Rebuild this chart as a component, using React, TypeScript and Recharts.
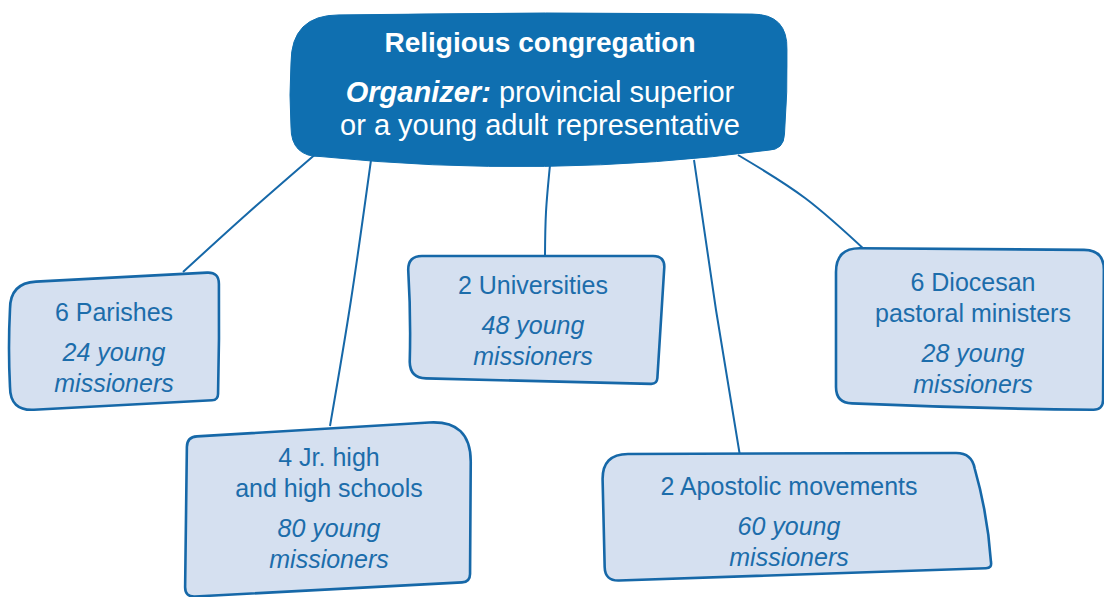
import { ScatterChart, Scatter, XAxis, YAxis } from 'recharts';

const W = 1104;
const H = 597;

// units under the congregation
const unitTitles = [
  ['6 Parishes'],
  ['4 Jr. high', 'and high schools'],
  ['2 Universities'],
  ['2 Apostolic movements'],
  ['6 Diocesan', 'pastoral ministers'],
];
const youngMissioners = [24, 80, 48, 60, 28];

// anchor = text centre x, first baseline y (chart space == pixel space)
const unitX = [114, 329, 533, 789, 973];
const unitY = [321, 466, 294, 495, 291];

const headerTitle = 'Religious congregation';
const headerLead = 'Organizer:';
const headerLines = ['provincial superior', 'or a young adult representative'];
const headerAt = { x: 540, y: 52 };

// connector paths from header to each unit
const links = [
  [{ x: 318, y: 152 }, { x: 248, y: 213 }, { x: 183, y: 272 }],
  [{ x: 371, y: 160 }, { x: 351, y: 300 }, { x: 330, y: 426 }],
  [{ x: 550, y: 165 }, { x: 546, y: 212 }, { x: 545, y: 256 }],
  [{ x: 694, y: 160 }, { x: 716, y: 310 }, { x: 740, y: 456 }],
  [{ x: 738, y: 155 }, { x: 805, y: 198 }, { x: 866, y: 251 }],
];

// hand-drawn outlines: corners relative to anchor (TL, TR, BR, BL), radii, edge bulges (top,right,bottom,left)
const unitOutlines = [
  { c: [[-104, -38], [105, -49], [104, 79], [-104, 90]], r: [26, 12, 6, 24], b: [0, 1, 0, 2] },
  { c: [[-142, -29], [142, -46], [141, 116], [-144, 131]], r: [10, 42, 8, 10], b: [0, 0, 0, 0] },
  { c: [[-125, -38], [132, -38], [124, 90], [-123, 84]], r: [14, 12, 6, 16], b: [0, 0, 0, -2] },
  { c: [[-187, -41], [183, -42], [203, 73], [-184, 86]], r: [26, 16, 6, 14], b: [0, 5, 0, 0] },
  { c: [[-137, -43], [131, -41], [130, 119], [-137, 112]], r: [24, 20, 10, 16], b: [0, 0, 2, 0] },
];
const headerOutline = { c: [[-249, -37], [248, -38], [244, 98], [-249, 105]], r: [48, 36, 16, 30], b: [3, 2, 26, 2] };

const BLUE = '#0f6fb0';
const TEXT = '#1c6dab';
const FILL = '#d5e0f0';
const EDGE = '#1668a8';
const FONT = '"Liberation Sans", Arial, Helvetica, sans-serif';

function toward(a: number[], b: number[], r: number) {
  const dx = b[0] - a[0];
  const dy = b[1] - a[1];
  const L = Math.hypot(dx, dy) || 1;
  return [a[0] + (dx * r) / L, a[1] + (dy * r) / L];
}

function outlinePath(cx: number, cy: number, o: { c: number[][]; r: number[]; b: number[] }) {
  const P = o.c.map(([dx, dy]) => [cx + dx, cy + dy]);
  const ins = P.map((p, i) => toward(p, P[(i + 3) % 4], o.r[i]));
  const outs = P.map((p, i) => toward(p, P[(i + 1) % 4], o.r[i]));
  let d = `M${ins[0][0]},${ins[0][1]}`;
  for (let i = 0; i < 4; i++) {
    d += ` Q${P[i][0]},${P[i][1]} ${outs[i][0]},${outs[i][1]}`;
    const from = outs[i];
    const to = ins[(i + 1) % 4];
    const dx = to[0] - from[0];
    const dy = to[1] - from[1];
    const L = Math.hypot(dx, dy) || 1;
    const k = o.b[i];
    const mx = (from[0] + to[0]) / 2 + (dy / L) * k;
    const my = (from[1] + to[1]) / 2 + (-dx / L) * k;
    d += ` Q${mx},${my} ${to[0]},${to[1]}`;
  }
  return d + ' Z';
}

function UnitShape(props: any) {
  const { cx, cy, payload } = props;
  const i = payload.idx;
  const titles = unitTitles[i];
  const countY = cy + (titles.length - 1) * 31 + 40;
  return (
    <g>
      <path d={outlinePath(cx, cy, unitOutlines[i])} fill={FILL} stroke={EDGE} strokeWidth={2.6} strokeLinejoin="round" />
      <text textAnchor="middle" fill={TEXT} fontFamily={FONT} fontSize={25}>
        {titles.map((t, j) => (
          <tspan key={j} x={cx} y={cy + j * 31}>{t}</tspan>
        ))}
      </text>
      <text textAnchor="middle" fill={TEXT} fontFamily={FONT} fontSize={25} fontStyle="italic">
        <tspan x={cx} y={countY}>{`${youngMissioners[i]} young`}</tspan>
        <tspan x={cx} y={countY + 31}>missioners</tspan>
      </text>
    </g>
  );
}

function HeaderShape(props: any) {
  const { cx, cy } = props;
  return (
    <g>
      <path d={outlinePath(cx, cy, headerOutline)} fill={BLUE} stroke={BLUE} strokeWidth={1} />
      <text x={cx} y={cy} textAnchor="middle" fill="#fff" fontFamily={FONT} fontSize={28} fontWeight="bold">
        {headerTitle}
      </text>
      <text textAnchor="middle" fill="#fff" fontFamily={FONT} fontSize={29}>
        <tspan x={cx} y={cy + 50}>
          <tspan fontWeight="bold" fontStyle="italic">{headerLead}</tspan> {headerLines[0]}
        </tspan>
        <tspan x={cx} y={cy + 83}>{headerLines[1]}</tspan>
      </text>
    </g>
  );
}

const unitData = unitX.map((x, i) => ({ x, y: unitY[i], idx: i }));
const headerData = [{ x: headerAt.x, y: headerAt.y }];

export default function App() {
  return (
    <div style={{ position: 'absolute', left: 0, top: 0, width: W, height: H, background: '#fff' }}>
      <ScatterChart width={W} height={H} margin={{ top: 0, right: 0, bottom: 0, left: 0 }}>
        <XAxis type="number" dataKey="x" domain={[0, W]} allowDataOverflow hide />
        <YAxis type="number" dataKey="y" domain={[0, H]} allowDataOverflow reversed hide />
        {links.map((pts, i) => (
          <Scatter
            key={`link-${i}`}
            data={pts}
            line={{ stroke: EDGE, strokeWidth: 2 }}
            lineJointType="natural"
            shape={() => <g />}
            isAnimationActive={false}
          />
        ))}
        <Scatter data={unitData} shape={UnitShape} isAnimationActive={false} />
        <Scatter data={headerData} shape={HeaderShape} isAnimationActive={false} />
      </ScatterChart>
    </div>
  );
}
